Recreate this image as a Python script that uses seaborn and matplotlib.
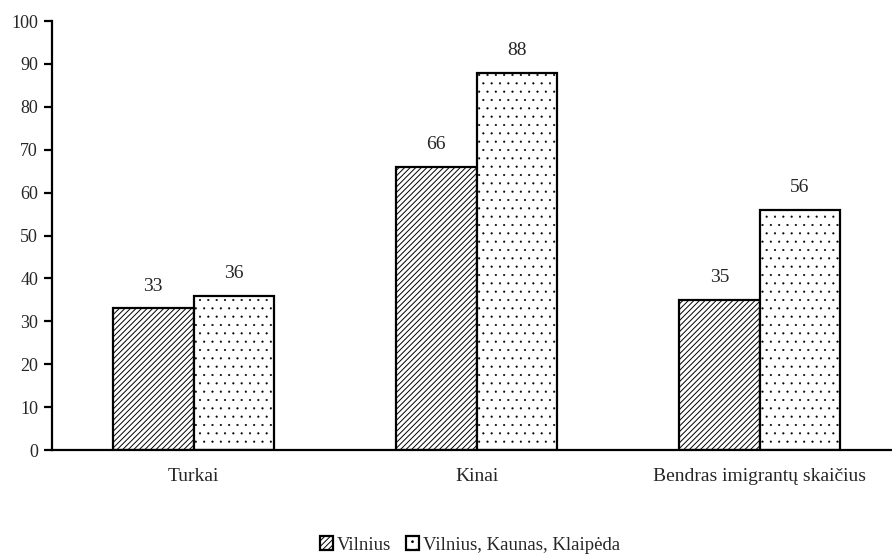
import matplotlib
matplotlib.use("Agg")
import matplotlib.pyplot as plt
from matplotlib.patches import Patch
import seaborn as sns
import pandas as pd

categories = ["Turkai", "Kinai", "Bendras imigrantų skaičius"]
series_names = ["Vilnius", "Vilnius, Kaunas, Klaipėda"]
vilnius = [33, 66, 35]
three_cities = [36, 88, 56]
y_ticks = list(range(0, 101, 10))

df = pd.DataFrame({
    "category": categories * 2,
    "value": vilnius + three_cities,
    "series": [series_names[0]] * 3 + [series_names[1]] * 3,
})

sns.set_theme(style="white")
plt.rcParams["font.family"] = ["Liberation Serif", "DejaVu Serif"]
plt.rcParams["hatch.linewidth"] = 0.7

fig = plt.figure(figsize=(8.92, 5.54), dpi=100)
ax = fig.add_axes([0.0583, 0.1877, 0.952, 0.7743])

sns.barplot(data=df, x="category", y="value", hue="series",
            order=categories, hue_order=series_names,
            palette=["white", "white"], width=0.57, gap=0,
            edgecolor="black", linewidth=1.6, saturation=1,
            ax=ax, legend=False)

hatches = ["//////", ".."]
hatch_widths = [0.7, 0.3]
for cont, h, hw in zip(ax.containers, hatches, hatch_widths):
    for bar in cont:
        bar.set_hatch(h)
        bar.set_edgecolor("black")
        if hasattr(bar, "set_hatch_linewidth"):
            bar.set_hatch_linewidth(hw)
    ax.bar_label(cont, fmt="%d", padding=10, fontsize=14)

ax.set_ylim(0, 100)
ax.set_xlim(-0.5, 2.5)
ax.set_yticks(y_ticks)
ax.set_yticklabels([str(t) for t in y_ticks], fontsize=13)
ax.set_xticks(range(len(categories)))
ax.set_xticklabels(categories, fontsize=14)
ax.tick_params(axis="x", length=0, pad=13)
ax.set_xticks([0.5, 1.5], minor=True)
ax.tick_params(axis="x", which="minor", length=7, width=1.6, direction="out", color="black")
ax.tick_params(axis="y", length=6, width=1.6, direction="out", color="black", pad=4, left=True)
ax.set_xlabel("")
ax.set_ylabel("")

for side in ["top", "right"]:
    ax.spines[side].set_visible(False)
for side in ["left", "bottom"]:
    ax.spines[side].set_linewidth(1.6)
    ax.spines[side].set_color("black")

handles = []
for h, hw in zip(hatches, hatch_widths):
    p = Patch(facecolor="white", edgecolor="black", hatch=h, linewidth=1.6)
    if hasattr(p, "set_hatch_linewidth"):
        p.set_hatch_linewidth(hw)
    handles.append(p)
fig.legend(handles, series_names, loc="center", bbox_to_anchor=(470 / 892, 1 - 545 / 554),
           ncol=2, frameon=False, fontsize=13.5, handlelength=0.7, handleheight=0.7,
           handletextpad=0.2, columnspacing=0.8, borderpad=0)

fig.savefig("out.png", dpi=100)
